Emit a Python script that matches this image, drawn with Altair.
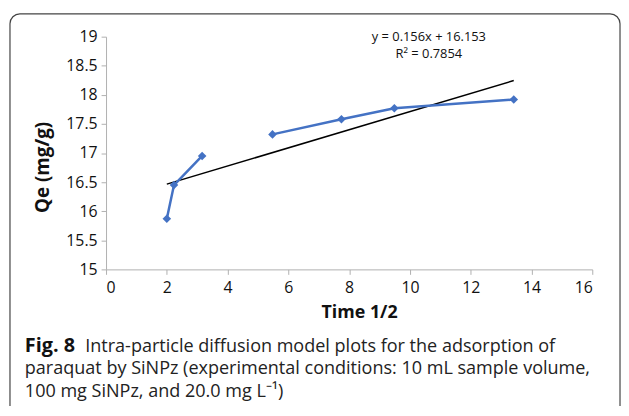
import altair as alt
import pandas as pd

# Data
time_half = [2.0, 2.236, 3.162, 5.477, 7.746, 9.487, 13.416]
qe = [15.87, 16.45, 16.95, 17.32, 17.58, 17.77, 17.92]
segment = ["a", "a", "a", "b", "b", "b", "b"]

slope = 0.156
intercept = 16.153
trend_x = [2.0, 13.416]
trend_y = [slope * v + intercept for v in trend_x]

x_ticks = [0, 2, 4, 6, 8, 10, 12, 14, 16]
y_ticks = [15, 15.5, 16, 16.5, 17, 17.5, 18, 18.5, 19]

eq_lines = ["y = 0.156x + 16.153", "R\u00b2 = 0.7854"]
caption_bold = "Fig. 8"
caption_lines = [
    "Intra-particle diffusion model plots for the adsorption of",
    "paraquat by SiNPz (experimental conditions: 10 mL sample volume,",
    "100 mg SiNPz, and 20.0 mg L\u207b\u00b9)",
]

FONT = "Open Sans"
W, H = 491, 235

df = pd.DataFrame({"t": time_half, "q": qe, "seg": segment})
trend = pd.DataFrame({"t": trend_x, "q": trend_y})

xs = alt.Scale(domain=[0, 16], nice=False, zero=False)
ys = alt.Scale(domain=[15, 19], nice=False, zero=False)

x_axis = alt.Axis(values=x_ticks, title=None, grid=False,
                  domainColor="#b0b0b0", tickColor="#b0b0b0", tickSize=5,
                  labelFont=FONT, labelFontSize=16, labelColor="#111",
                  labelPadding=5, labelOverlap=False)
y_axis = alt.Axis(values=y_ticks, format="~g", title=None,
                  grid=False, domainColor="#b0b0b0", tickColor="#b0b0b0", tickSize=5,
                  labelFont=FONT, labelFontSize=16, labelColor="#111",
                  labelPadding=4, labelOverlap=False)

X = alt.X("t:Q", scale=xs, axis=x_axis)
Y = alt.Y("q:Q", scale=ys, axis=y_axis)

one = pd.DataFrame({"k": [0]})


def label(txt, x, y, size, weight="normal", angle=0, align="left", baseline="alphabetic", color="#111"):
    return alt.Chart(pd.DataFrame({"txt": [txt]})).mark_text(
        font=FONT, fontSize=size, fontWeight=weight, angle=angle, color=color,
        align=align, baseline=baseline
    ).encode(x=alt.value(x), y=alt.value(y), text="txt:N")


frame = alt.Chart(one).mark_rect(
    fill=None, stroke="#444", strokeWidth=1.2, cornerRadius=10
).encode(x=alt.value(-97), x2=alt.value(519), y=alt.value(-23), y2=alt.value(390))

line = alt.Chart(df).mark_line(color="#4472C4", strokeWidth=2.5).encode(
    x=X, y=Y, detail="seg:N",
)
pts = alt.Chart(df).mark_point(shape="diamond", filled=True, color="#4472C4", size=75, opacity=1).encode(
    x=X, y=Y
)
trend_line = alt.Chart(trend).mark_line(color="black", strokeWidth=1.5).encode(
    x=X, y=Y
)

layers = [frame, trend_line, line, pts,
          label(eq_lines[0], 326, 0, 13, align="center", baseline="middle"),
          label(eq_lines[1], 326, 18, 13, align="center", baseline="middle"),
          label("Qe (mg/g)", -64, 132, 19, weight="bold", angle=270, align="center", baseline="middle"),
          label("Time 1/2", 256, 279, 18, weight="bold", align="center", baseline="middle"),
          label(caption_bold, -82, 318, 20, weight="bold"),
          label(caption_lines[0], -21, 318, 18.2, color="#222"),
          label(caption_lines[1], -82, 341, 18.2, color="#222"),
          label(caption_lines[2], -82, 364, 18.2, color="#222")]

chart = alt.layer(*layers).properties(
    width=W, height=H,
    padding={"left": 99, "top": 27, "right": 29, "bottom": 136},
    autosize=alt.AutoSizeParams(type="none"),
    background="white",
).configure_view(stroke=None)

chart.save("out.html", embed_options={"renderer": "svg", "actions": False})
